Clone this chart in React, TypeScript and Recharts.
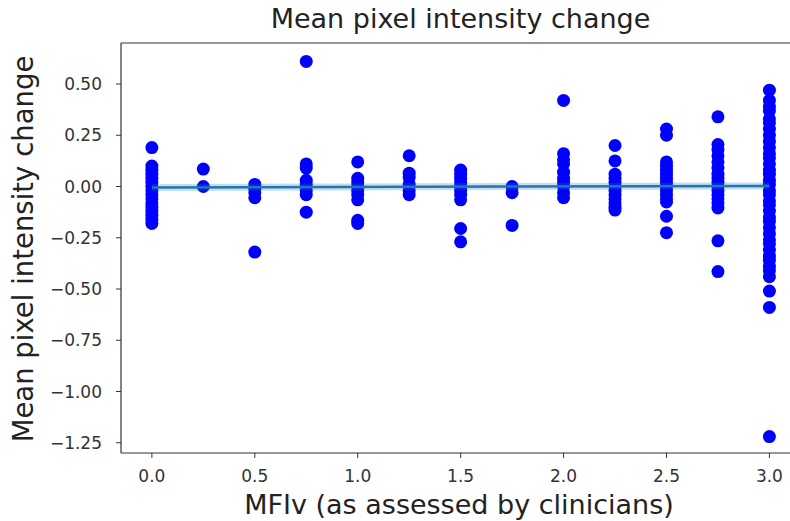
import { ScatterChart, Scatter, XAxis, YAxis, ReferenceLine } from "recharts";

// MFIv levels on the x axis and the measured changes at each level
const mfivLevels = [0, 0.25, 0.5, 0.75, 1, 1.25, 1.5, 1.75, 2, 2.25, 2.5, 2.75, 3];

const change000 = [0.19, 0.1, 0.08, 0.06, 0.04, 0.02, 0.0, -0.02, -0.04, -0.06, -0.08, -0.1, -0.12, -0.14, -0.16, -0.18];
const change025 = [0.085, 0.0];
const change050 = [0.01, -0.01, -0.03, -0.055, -0.32];
const change075 = [0.61, 0.11, 0.09, 0.03, 0.01, -0.02, -0.04, -0.125];
const change100 = [0.12, 0.04, 0.02, 0.0, -0.02, -0.04, -0.065, -0.165, -0.18];
const change125 = [0.15, 0.065, 0.045, 0.01, -0.02, -0.04];
const change150 = [0.08, 0.06, 0.04, 0.02, 0.0, -0.02, -0.04, -0.065, -0.205, -0.27];
const change175 = [0.0, -0.03, -0.19];
const change200 = [0.42, 0.16, 0.13, 0.11, 0.07, 0.04, 0.02, 0.0, -0.03, -0.055];
const change225 = [0.2, 0.125, 0.06, 0.04, 0.02, 0.0, -0.02, -0.04, -0.06, -0.08, -0.1, -0.115];
const change250 = [0.28, 0.25, 0.12, 0.1, 0.08, 0.06, 0.04, 0.02, 0.0, -0.02, -0.04, -0.06, -0.075, -0.145, -0.225];
const change275 = [0.34, 0.205, 0.18, 0.15, 0.12, 0.09, 0.06, 0.04, 0.02, 0.0, -0.02, -0.04, -0.06, -0.08, -0.105, -0.265, -0.415];
const change300 = [
  0.47, 0.42, 0.39, 0.37, 0.33, 0.31, 0.28, 0.25, 0.22, 0.19, 0.16, 0.14, 0.11, 0.08, 0.06, 0.03, 0.01,
  -0.02, -0.04, -0.07, -0.09, -0.12, -0.15, -0.17, -0.2, -0.23, -0.26, -0.28, -0.31, -0.34, -0.36, -0.39,
  -0.41, -0.44, -0.51, -0.59, -1.22,
];

const changeByLevel = [
  change000, change025, change050, change075, change100, change125, change150,
  change175, change200, change225, change250, change275, change300,
];

// fitted regression line (seaborn regplot)
const fitX = [0, 3];
const fitY = [-0.005, 0.003];

const xTicks = [0, 0.5, 1, 1.5, 2, 2.5, 3];
const yTicks = [0.5, 0.25, 0, -0.25, -0.5, -0.75, -1, -1.25];

const points = mfivLevels.flatMap((x, i) => changeByLevel[i].map((y) => ({ x, y })));
const fitLine = fitX.map((x, i) => ({ x, y: fitY[i] }));

const FONT = "'DejaVu Sans', sans-serif";
const SPINE = "#333";

const fmtY = (v: number) => v.toFixed(2).replace("-", "\u2212");
const fmtX = (v: number) => v.toFixed(1);

const Dot = (p: any) => <circle cx={p.cx} cy={p.cy} r={6.5} fill="#0000ff" />;
const NoDot = () => <g />;

export default function App() {
  return (
    <div style={{ position: "absolute", left: 0, top: 0, width: 790, height: 521, background: "#fff" }}>
      <ScatterChart width={790} height={521} margin={{ top: 43, right: 0, bottom: 0, left: 0 }}>
        <XAxis
          type="number"
          dataKey="x"
          domain={[-0.15, 3.1]}
          allowDataOverflow
          ticks={xTicks}
          tickFormatter={fmtX}
          height={68}
          tickSize={5}
          tickMargin={12}
          stroke={SPINE}
          axisLine={{ stroke: SPINE, strokeWidth: 1.2 }}
          tickLine={{ stroke: SPINE }}
          tick={{ fill: "#333", fontSize: 17, fontFamily: FONT }}
        />
        <YAxis
          type="number"
          dataKey="y"
          domain={[-1.3, 0.7]}
          allowDataOverflow
          ticks={yTicks}
          tickFormatter={fmtY}
          width={121}
          tickSize={5}
          tickMargin={14}
          stroke={SPINE}
          axisLine={{ stroke: SPINE, strokeWidth: 1.2 }}
          tickLine={{ stroke: SPINE }}
          tick={{ fill: "#333", fontSize: 17, fontFamily: FONT }}
        />
        <ReferenceLine y={0.7} stroke={SPINE} strokeWidth={1.2} />
        <Scatter data={points} shape={Dot} isAnimationActive={false} />
        <Scatter
          data={fitLine}
          shape={NoDot}
          line={{ stroke: "#1f77b4", strokeWidth: 7, strokeOpacity: 0.25 }}
          isAnimationActive={false}
        />
        <Scatter
          data={fitLine}
          shape={NoDot}
          line={{ stroke: "#1f77b4", strokeWidth: 2.5 }}
          isAnimationActive={false}
        />
      </ScatterChart>
      <svg
        width={790}
        height={521}
        style={{ position: "absolute", left: 0, top: 0, pointerEvents: "none" }}
        fontFamily={FONT}
      >
        <text x={460.5} y={28} textAnchor="middle" fontSize={27} fill="#222">
          Mean pixel intensity change
        </text>
        <text x={459} y={514} textAnchor="middle" fontSize={27} fill="#222">
          MFIv (as assessed by clinicians)
        </text>
        <text
          x={33}
          y={249}
          textAnchor="middle"
          fontSize={27.5}
          fill="#222"
          transform="rotate(-90 33 249)"
        >
          Mean pixel intensity change
        </text>
      </svg>
    </div>
  );
}
